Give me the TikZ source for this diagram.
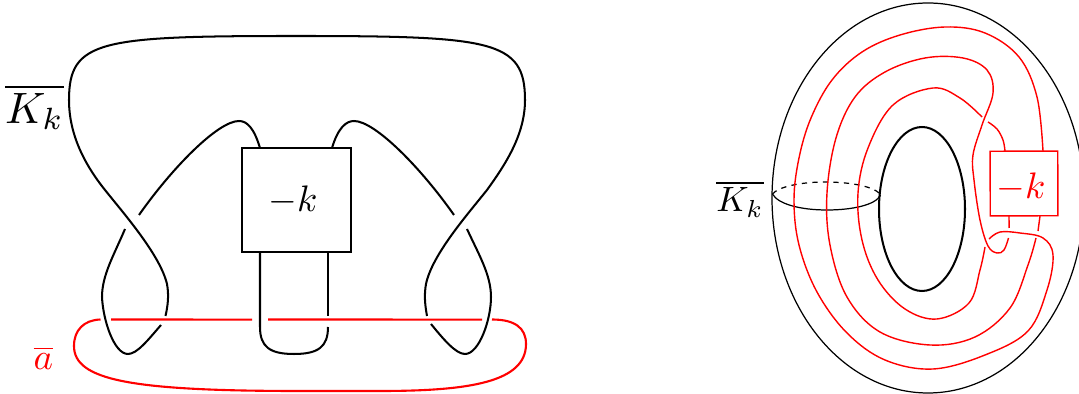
\documentclass[tikz,border=0pt]{standalone}
\usepackage{amssymb}
\definecolor{redline}{rgb}{1,0,0}
\tikzset{
	knot/.style={line width=1.15pt, draw=black},
	knotred/.style={line width=1.2pt, draw=redline},
	thinblack/.style={line width=0.7pt, draw=black},
	thinred/.style={line width=0.8pt, draw=redline, smooth, tension=0.6},
	twistbox/.style={draw=black, line width=1pt, minimum width=61.8pt, minimum height=59pt, inner sep=0pt},
	twistboxred/.style={draw=redline, line width=0.8pt, minimum width=38.5pt, minimum height=36.8pt, inner sep=0pt, rotate=0.1}
}
\begin{document}
\begin{tikzpicture}[x=0.02cm, y=-0.02cm]
	\clip (0,0) rectangle (1079,394);

	% Figura sinistra: nodo nero
	\node[twistbox] (boxL) at (296.5,200) {};
	\node[scale=2.1] (labelkL) at (293,200) {$-k$};
	\node[scale=2.5] (labelKL) at (34.5,107) {$\overline{K_k}$};
	\node[scale=2.1, text=redline] (labelA) at (43.5,358) {$\overline{a}$};

	\draw[knot] (260,148) .. controls (254,128) and (247,121) .. (239,121)
		.. controls (218,121) and (172,168) .. (139,215);
	\draw[knot] (125,229) .. controls (114,255) and (102,275) .. (102,297)
		.. controls (103,320) and (114,354) .. (128,354)
		.. controls (137,354) and (148,340) .. (161,325);
	\draw[knot] (165.5,316) .. controls (168,305) and (169,295) .. (167,284)
		.. controls (160,255) and (125,215) .. (105,190)
		.. controls (85,165) and (69,135) .. (69,100)
		.. controls (69,40) and (100,36) .. (296,36)
		.. controls (492,36) and (525,40) .. (525,100)
		.. controls (525,135) and (505,165) .. (487,190)
		.. controls (467,215) and (432,255) .. (426,284)
		.. controls (424,295) and (425,305) .. (427,316);
	\draw[knot] (431,324) .. controls (444,340) and (456,354) .. (465,354)
		.. controls (479,354) and (491,320) .. (491,297)
		.. controls (491,275) and (479,255) .. (467,229);
	\draw[knot] (454,215) .. controls (421,168) and (375,121) .. (354,121)
		.. controls (346,121) and (338,128) .. (332,148);

	% Due fili sotto il riquadro
	\draw[knot] (260,252) -- (260,327) .. controls (260,347) and (270,354) .. (294,354)
		.. controls (318,354) and (328,347) .. (328,327);
	\draw[knot] (328,252) -- (328,316);

	% Curva rossa
	\draw[knotred] (111,319.5) -- (252,319.6);
	\draw[knotred] (268,319.5) -- (482,319.6);
	\draw[knotred] (100.5,319.5) .. controls (84,320) and (74,330) .. (74,346)
		.. controls (74,380) and (130,391) .. (300,391)
		-- (380,391) .. controls (470,391) and (526,382) .. (526,344)
		.. controls (526,328) and (515,319.5) .. (492,319.5);

	% Figura destra: toro
	\draw[thinblack] (928,198) ellipse [x radius=156, y radius=195];
	\draw[knot] (922,209) ellipse [x radius=43, y radius=82];
	\draw[thinblack] (772.5,194) .. controls (778,204) and (800,210) .. (827,210)
		.. controls (852,210) and (876,205) .. (880.5,195);
	\draw[thinblack, dashed] (772.5,194) .. controls (778,187) and (800,182) .. (825,182)
		.. controls (852,182) and (876,187) .. (880.5,195);
	\node[scale=2] (labelKR) at (740,199) {$\overline{K_k}$};
	\node[twistboxred] (boxR) at (1024,183.5) {};
	\node[scale=2.1, text=redline] (labelkR) at (1021,187) {$-k$};

	% Filo rosso esterno
	\draw[thinred] plot coordinates {(1043,151) (1037,97) (1019,57) (985,33) (945,27) (900,35) (862,52)
		(832,80) (811,118) (799,158) (794,200) (799,245) (817,292) (847,333) (885,360) (933,369) (985,355)
		(1028,331) (1047,290) (1053,255) (1043,238) (1020,233) (1000,232) (989,239)};
	\draw[thinred] plot coordinates {(985,247) (980,270) (969,303) (937,319) (905,309) (878,280) (862,240)
		(858,193) (868,148) (893,105) (933,88) (960,98) (982,117)};
	\draw[thinred] plot coordinates {(988,122) (997,129) (1003,140) (1005,151)};

	% Filo rosso centrale
	\draw[thinred] (1009,216) -- (1009.1,228);
	\draw[thinred] plot coordinates {(1008.5,238) (1004,250) (997,253) (988,246) (980,220) (974,180) (973,155)
		(982,125) (993,93) (987,70) (963,58) (925,58) (885,72) (855,97) (836,138) (827,193) (830,245)
		(847,297) (880,332) (930,345) (975,337) (1010,308) (1028,265) (1036,238)};
	\draw[thinred] (1040,216) -- (1038,231);
\end{tikzpicture}
\end{document}
